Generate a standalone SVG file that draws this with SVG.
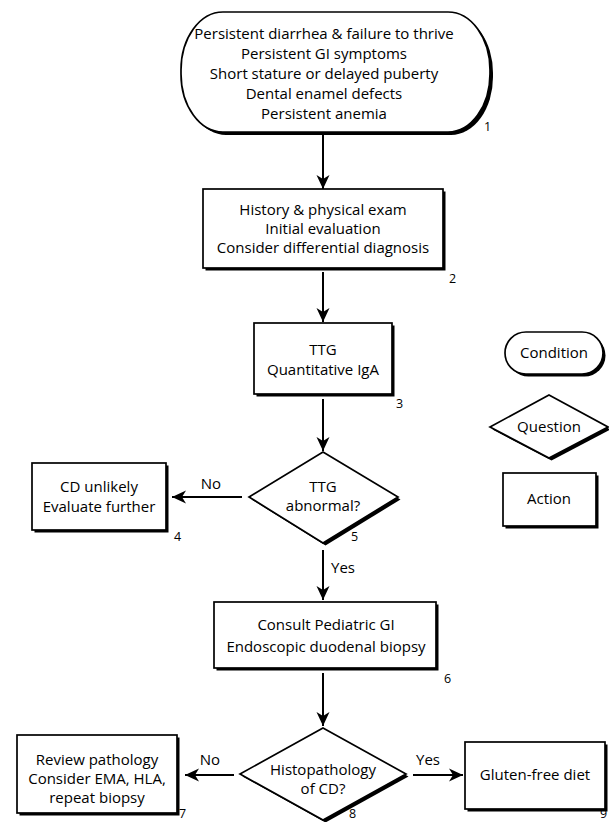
<svg xmlns="http://www.w3.org/2000/svg" width="609" height="822" viewBox="0 0 609 822">
<defs>
<style>
.sh{fill:#000;stroke:none}
.bx{fill:#fff;stroke:#000;stroke-width:1.7}
.t{font-family:"Open Sans","Liberation Sans",sans-serif;font-size:15px;fill:#000;text-anchor:middle}
.n{font-family:"Open Sans","Liberation Sans",sans-serif;font-size:12.5px;fill:#000}
.c{stroke:#000;stroke-width:2;fill:none;marker-end:url(#ah)}
</style>
<marker id="ah" markerUnits="userSpaceOnUse" markerWidth="16" markerHeight="14" viewBox="-14 -7 16 14" refX="0" refY="0" orient="auto">
<path d="M0,0 L-14,-6.5 L-10,0 L-14,6.5 Z" fill="#000"/>
</marker>
</defs>
<rect width="609" height="822" fill="#fff"/>

<g id="connectors">
<line class="c" x1="323" y1="135" x2="323" y2="189"/>
<line class="c" x1="323" y1="272" x2="323" y2="322"/>
<line class="c" x1="323" y1="399" x2="323" y2="451"/>
<line class="c" x1="242" y1="497" x2="172" y2="497"/>
<line class="c" x1="323" y1="550" x2="323" y2="600"/>
<line class="c" x1="323" y1="673" x2="323" y2="726"/>
<line class="c" x1="234" y1="775" x2="185" y2="775"/>
<line class="c" x1="413" y1="775" x2="463" y2="775"/>
<text class="t" x="211" y="489">No</text>
<text class="t" x="343" y="573">Yes</text>
<text class="t" x="210" y="765">No</text>
<text class="t" x="428" y="765">Yes</text>
</g>

<g id="n1">
<rect class="sh" x="184" y="15" width="309" height="120" rx="42" ry="58"/>
<rect class="bx" x="181" y="12" width="309" height="120" rx="42" ry="58"/>
<text class="t" x="324" y="39">Persistent diarrhea &amp; failure to thrive</text>
<text class="t" x="324" y="59">Persistent GI symptoms</text>
<text class="t" x="324" y="79">Short stature or delayed puberty</text>
<text class="t" x="324" y="99">Dental enamel defects</text>
<text class="t" x="324" y="119">Persistent anemia</text>
<text class="n" x="484" y="131">1</text>
</g>

<g id="n2">
<rect class="sh" x="205.5" y="191.5" width="240" height="79"/>
<rect class="bx" x="203" y="189" width="240" height="79"/>
<text class="t" x="323" y="215">History &amp; physical exam</text>
<text class="t" x="323" y="234">Initial evaluation</text>
<text class="t" x="323" y="253">Consider differential diagnosis</text>
<text class="n" x="449" y="283">2</text>
</g>

<g id="n3">
<rect class="sh" x="256.5" y="325.5" width="138" height="71"/>
<rect class="bx" x="254" y="323" width="138" height="71"/>
<text class="t" x="323" y="355">TTG</text>
<text class="t" x="323" y="375">Quantitative IgA</text>
<text class="n" x="396" y="408">3</text>
</g>

<g id="n4">
<rect class="sh" x="34.5" y="465.5" width="134" height="67"/>
<rect class="bx" x="32" y="463" width="134" height="67"/>
<text class="t" x="99" y="492">CD unlikely</text>
<text class="t" x="99" y="512">Evaluate further</text>
<text class="n" x="174" y="541">4</text>
</g>

<g id="n5">
<polygon class="sh" points="325.5,454.5 400.5,499.5 325.5,545.5 251.5,499.5"/>
<polygon class="bx" points="323,452 398,497 323,543 249,497"/>
<text class="t" x="323" y="492">TTG</text>
<text class="t" x="323" y="511">abnormal?</text>
<text class="n" x="351" y="541">5</text>
</g>

<g id="n6">
<rect class="sh" x="216.5" y="604.5" width="222" height="66"/>
<rect class="bx" x="214" y="602" width="222" height="66"/>
<text class="t" x="326" y="630">Consult Pediatric GI</text>
<text class="t" x="326" y="652">Endoscopic duodenal biopsy</text>
<text class="n" x="444" y="683">6</text>
</g>

<g id="n7">
<rect class="sh" x="19.5" y="737.5" width="160" height="78"/>
<rect class="bx" x="17" y="735" width="160" height="78"/>
<text class="t" x="97" y="765">Review pathology</text>
<text class="t" x="97" y="784">Consider EMA, HLA,</text>
<text class="t" x="97" y="803">repeat biopsy</text>
<text class="n" x="179" y="818">7</text>
</g>

<g id="n8">
<polygon class="sh" points="325.5,730.5 408.5,776.5 325.5,822.5 242.5,776.5"/>
<polygon class="bx" points="323,728 406,774 323,820 240,774"/>
<text class="t" x="323" y="775">Histopathology</text>
<text class="t" x="323" y="794">of CD?</text>
<text class="n" x="349" y="818">8</text>
</g>

<g id="n9">
<rect class="sh" x="467.5" y="744.5" width="140" height="67"/>
<rect class="bx" x="465" y="742" width="140" height="67"/>
<text class="t" x="535" y="780">Gluten-free diet</text>
<text class="n" x="600" y="818">9</text>
</g>

<g id="legend-condition">
<rect class="sh" x="507.5" y="334.5" width="98" height="42" rx="21" ry="21"/>
<rect class="bx" x="505" y="332" width="98" height="42" rx="21" ry="21"/>
<text class="t" x="554" y="358">Condition</text>
</g>
<g id="legend-question">
<polygon class="sh" points="551.5,397.5 610.5,429.5 551.5,460.5 492.5,429.5"/>
<polygon class="bx" points="549,395 608,427 549,458 490,427"/>
<text class="t" x="549" y="432">Question</text>
</g>
<g id="legend-action">
<rect class="sh" x="505.5" y="475.5" width="93" height="53"/>
<rect class="bx" x="503" y="473" width="93" height="53"/>
<text class="t" x="549" y="504">Action</text>
</g>
</svg>
